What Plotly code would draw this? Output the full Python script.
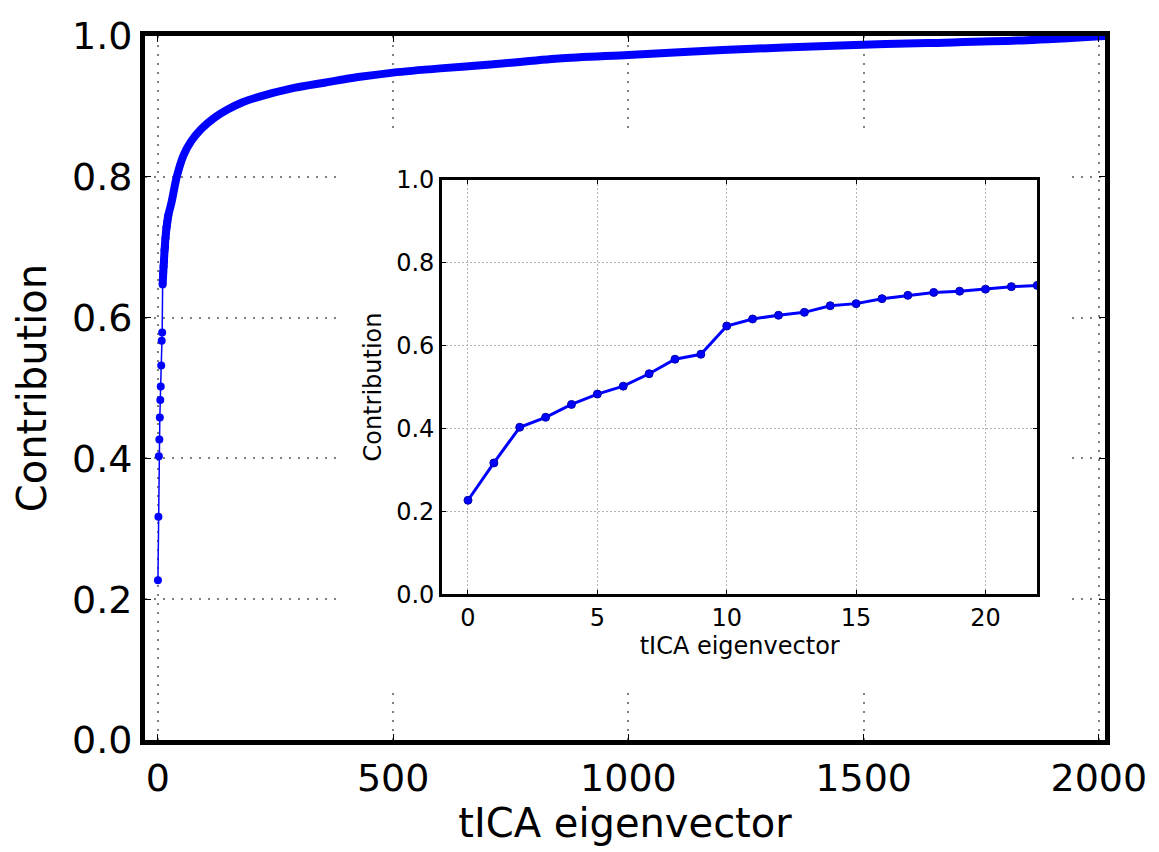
import plotly.graph_objects as go

# Inset data: cumulative contribution of the first tICA eigenvectors
inset_x = list(range(23))
inset_y = [0.227, 0.317, 0.403, 0.427, 0.458, 0.483, 0.502, 0.532, 0.567, 0.579,
           0.647, 0.664, 0.673, 0.680, 0.696, 0.701, 0.713, 0.721, 0.728, 0.731,
           0.736, 0.742, 0.745]

# Main curve: dense tail
tail_x = [10, 16, 22, 29, 40, 54, 70, 92, 120, 149, 180, 216, 280, 357, 430, 500,
          600, 700, 852, 1000, 1200, 1466, 1636, 1847, 2013]
tail_y = [0.647, 0.713, 0.745, 0.764, 0.800, 0.830, 0.850, 0.868, 0.884, 0.896,
          0.906, 0.914, 0.925, 0.934, 0.942, 0.948, 0.954, 0.959, 0.968, 0.973,
          0.980, 0.987, 0.990, 0.994, 1.000]

main_xticks = [0, 500, 1000, 1500, 2000]
main_yticks = [0.0, 0.2, 0.4, 0.6, 0.8, 1.0]
inset_xticks = [0, 5, 10, 15, 20]
inset_yticks = [0.0, 0.2, 0.4, 0.6, 0.8, 1.0]

BLUE = "#0000ff"
FONT = "DejaVu Sans"

fig = go.Figure()
fig.add_trace(go.Scatter(x=tail_x, y=tail_y, mode="lines",
                         line=dict(color=BLUE, width=8, shape="spline", smoothing=0.8),
                         xaxis="x", yaxis="y", showlegend=False, hoverinfo="skip"))
fig.add_trace(go.Scatter(x=inset_x, y=inset_y, mode="lines+markers",
                         line=dict(color=BLUE, width=1.5),
                         marker=dict(size=8, color=BLUE), xaxis="x", yaxis="y",
                         showlegend=False))
# blank white panel behind the inset (covers the main grid)
fig.add_trace(go.Scatter(x=[0.5], y=[0.5], mode="markers", marker=dict(opacity=0),
                         xaxis="x2", yaxis="y2", showlegend=False, hoverinfo="skip"))
# inset
fig.add_trace(go.Scatter(x=inset_x, y=inset_y, mode="lines+markers",
                         line=dict(color=BLUE, width=3),
                         marker=dict(size=8, color=BLUE, line=dict(color="#0000aa", width=1)),
                         xaxis="x3", yaxis="y3", showlegend=False))

main_axis = dict(showline=True, linewidth=5, linecolor="black", mirror="allticks",
                 ticks="inside", ticklen=6, tickwidth=1, tickcolor="black",
                 showgrid=True, gridcolor="#808080", gridwidth=2, griddash="2px,7px",
                 zeroline=False, tickfont=dict(size=38, color="black", family=FONT))
inset_axis = dict(showline=True, linewidth=3, linecolor="black", mirror="allticks",
                  ticks="inside", ticklen=4, tickwidth=1, tickcolor="black",
                  showgrid=True, gridcolor="#b4b4b4", gridwidth=1, griddash="2px,2px",
                  zeroline=False, tickfont=dict(size=24, color="black", family=FONT))
blank_axis = dict(showline=False, showgrid=False, zeroline=False, showticklabels=False,
                  ticks="", range=[0, 1], fixedrange=True)

fig.update_layout(
    width=1159, height=852,
    margin=dict(l=145, r=51, t=36, b=110),
    paper_bgcolor="white", plot_bgcolor="white",
    font=dict(family=FONT, color="black"),
    xaxis=dict(main_axis, domain=[0, 1], range=[-27.5, 2013], tickvals=main_xticks,
               anchor="y",
               title=dict(text="tICA eigenvector", font=dict(size=40), standoff=12)),
    yaxis=dict(main_axis, domain=[0, 1], range=[0, 1], tickvals=main_yticks,
               tickformat=".1f", anchor="x",
               title=dict(text="Contribution", font=dict(size=40), standoff=14)),
    xaxis2=dict(blank_axis, domain=[0.1994, 0.9605], anchor="y2"),
    yaxis2=dict(blank_axis, domain=[0.0737, 0.8598], anchor="x2"),
    xaxis3=dict(inset_axis, domain=[0.3095, 0.9294], range=[-1, 22], tickvals=inset_xticks,
                anchor="y3",
                title=dict(text="tICA eigenvector", font=dict(size=24), standoff=6)),
    yaxis3=dict(inset_axis, domain=[0.2068, 0.796], range=[0, 1], tickvals=inset_yticks,
                tickformat=".1f", anchor="x3",
                title=dict(text="Contribution", font=dict(size=24), standoff=8)),
)

fig.write_html("out.html")
